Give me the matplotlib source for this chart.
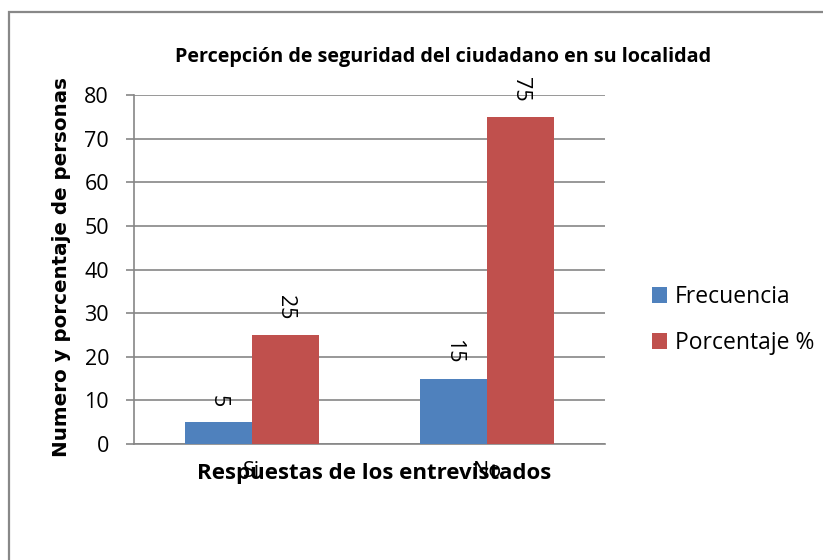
import matplotlib
matplotlib.use("Agg")
import matplotlib.pyplot as plt
from matplotlib.patches import Rectangle
import numpy as np

categories = ["Si", "No"]
frecuencia = [5, 15]
porcentaje = [25, 75]
series_names = ["Frecuencia", "Porcentaje %"]
yticks = [0, 10, 20, 30, 40, 50, 60, 70, 80]

title = "Percepción de seguridad del ciudadano en su localidad"
xlabel = "Respuestas de los entrevistados"
ylabel = "Numero y porcentaje de personas"

blue = "#4F81BD"
red = "#C0504D"
grid_c = "#868686"

W, H = 823, 560
fig = plt.figure(figsize=(W / 100, H / 100), dpi=100)
fig.patch.set_facecolor("white")

# outer chart border
fig.patches.append(Rectangle((9 / W, -0.1), 1.2, 1 - 12 / H + 0.1, transform=fig.transFigure,
                             fill=False, edgecolor="#888888", linewidth=1.6))

ax = fig.add_axes([134 / W, 1 - 444 / H, (605 - 134) / W, (444 - 95) / H])
x = np.arange(len(categories))
bw = 0.285
b1 = ax.bar(x - bw / 2, frecuencia, bw, color=blue, label=series_names[0], zorder=3)
b2 = ax.bar(x + bw / 2, porcentaje, bw, color=red, label=series_names[1], zorder=3)

font = "Open Sans"
for bars in (b1, b2):
    for rect in bars:
        ax.annotate(f"{rect.get_height():g}",
                    (rect.get_x() + rect.get_width() / 2, rect.get_height()),
                    xytext=(0, 11), textcoords="offset points",
                    ha="center", va="bottom", rotation=270,
                    fontsize=15.5, family=font, color="black")

ax.set_xlim(-0.5, 1.5)
ax.set_ylim(0, 80)
ax.set_yticks(yticks)
ax.set_yticklabels([str(v) for v in yticks], family=font, fontsize=15.5)
ax.set_xticks(x)
ax.set_xticklabels(categories, family=font, fontsize=15.5)
ax.tick_params(axis="x", length=0, pad=12)
ax.tick_params(axis="y", length=6, width=1.2, color=grid_c, pad=12)
ax.yaxis.grid(True, color=grid_c, linewidth=1.2, zorder=0)
for s in ("top", "right"):
    ax.spines[s].set_visible(False)
for s in ("left", "bottom"):
    ax.spines[s].set_color(grid_c)
    ax.spines[s].set_linewidth(1.2)

fig.text(443 / W, 1 - 57 / H, title, ha="center", va="center",
         fontsize=14.2, fontweight="bold", family=font)
fig.text(374 / W, 1 - 473 / H, xlabel, ha="center", va="center",
         fontsize=16, fontweight="bold", family=font)
fig.text(62 / W, 1 - 267 / H, ylabel, ha="center", va="center", rotation=90,
         fontsize=14.3, fontweight="bold", family="DejaVu Sans")

leg = ax.legend(loc="upper left", bbox_to_anchor=(643 / W, 1 - 276 / H),
                bbox_transform=fig.transFigure, frameon=False,
                prop={"family": font, "size": 16.5},
                handlelength=0.65, handleheight=0.65, handletextpad=0.35,
                labelspacing=0.95, borderaxespad=0)

fig.savefig("out.png", dpi=100, facecolor="white")
